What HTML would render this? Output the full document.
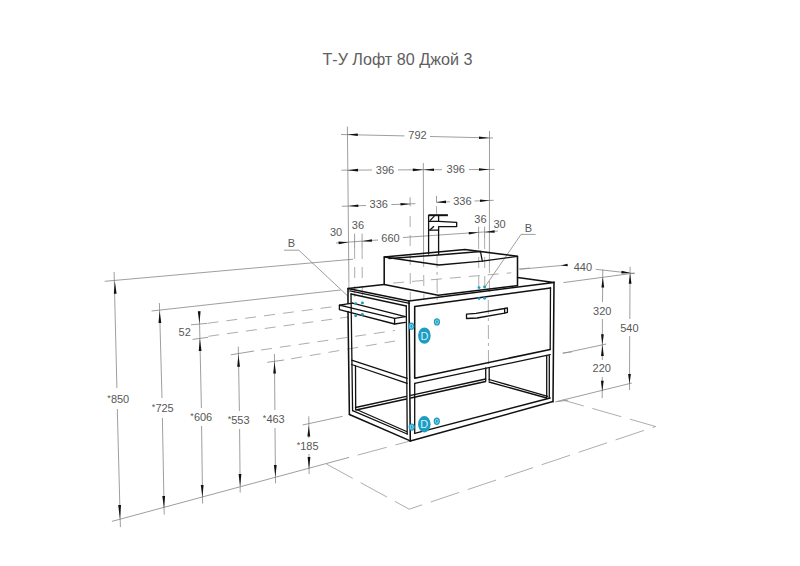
<!DOCTYPE html>
<html><head><meta charset="utf-8"><style>
html,body{margin:0;padding:0;background:#fff;width:800px;height:566px;overflow:hidden}
svg{display:block}
.d{stroke:#747474;stroke-width:0.7;fill:none}
.h{stroke:#8a8a8a;stroke-width:0.7;fill:none;stroke-dasharray:11 8}
.hf{stroke:#8a8a8a;stroke-width:0.7;fill:none;stroke-dasharray:30 9}
.o12{stroke-dashoffset:30}
.o8{stroke-dashoffset:-7}
.hc{stroke:#8a8a8a;stroke-width:0.7;fill:none;stroke-dasharray:14 4 3 4}
.kf{stroke:#111;stroke-width:2.0;fill:none}
.k{stroke:#111;stroke-width:1.55;fill:none;stroke-linejoin:round;stroke-linecap:round}
.k2{stroke:#111;stroke-width:1.3;fill:none;stroke-linejoin:round;stroke-linecap:round}
.ar{fill:#111}
.t{font-family:"Liberation Sans",sans-serif;fill:#575757;text-anchor:middle}
.title{font-family:"Liberation Sans",sans-serif;fill:#606060;font-size:16px}
</style></head><body>
<svg width="800" height="566" viewBox="0 0 800 566">
<text class="title" x="322.4" y="64.8" textLength="150" lengthAdjust="spacingAndGlyphs">Т-У Лофт 80 Джой 3</text>
<line class="d" x1="347.4" y1="126.5" x2="348.9" y2="282"/>
<line class="d" x1="423.3" y1="163" x2="423.6" y2="256"/>
<line class="d" x1="489.5" y1="131" x2="489.4" y2="262"/>
<line class="d" x1="341" y1="134.5" x2="404.5" y2="135.9"/>
<line class="d" x1="430" y1="136.5" x2="493" y2="138"/>
<polygon class="ar" points="347.4,134.6 357.78,136.10 357.82,133.50"/>
<polygon class="ar" points="489.5,137.9 479.02,136.40 478.98,139.00"/>
<line class="d" x1="341.4" y1="170.2" x2="372" y2="170.0"/>
<line class="d" x1="398" y1="169.9" x2="442" y2="169.7"/>
<line class="d" x1="469" y1="169.6" x2="494.5" y2="169.4"/>
<polygon class="ar" points="347.5,170.2 358.01,171.40 357.99,168.80"/>
<polygon class="ar" points="423.3,169.8 412.79,168.60 412.81,171.20"/>
<polygon class="ar" points="423.5,169.8 434.01,171.00 433.99,168.40"/>
<polygon class="ar" points="489.5,169.4 478.99,168.20 479.01,170.80"/>
<line class="d" x1="341.8" y1="206.3" x2="366" y2="205.5"/>
<line class="d" x1="391.3" y1="204.6" x2="415.4" y2="203.7"/>
<line class="d" x1="410.1" y1="197.3" x2="410.1" y2="206.3"/>
<polygon class="ar" points="348.5,206.0 358.34,207.00 358.26,204.40"/>
<polygon class="ar" points="410.1,203.9 400.46,202.90 400.54,205.50"/>
<line class="d" x1="436.5" y1="195.8" x2="436.5" y2="202.5"/>
<line class="d" x1="436.5" y1="202.2" x2="450" y2="201.8"/>
<line class="d" x1="474.5" y1="201.0" x2="493.6" y2="200.3"/>
<polygon class="ar" points="436.5,202.2 446.04,203.20 445.96,200.60"/>
<polygon class="ar" points="489.4,200.5 479.96,199.50 480.04,202.10"/>
<line class="d" x1="336" y1="243.0" x2="378" y2="240.0"/>
<line class="d" x1="403" y1="237.5" x2="498" y2="231.0"/>
<polygon class="ar" points="348.6,242.2 338.51,241.60 338.69,244.20"/>
<polygon class="ar" points="362.1,241.2 371.99,241.80 371.81,239.20"/>
<polygon class="ar" points="478.6,232.6 468.71,232.00 468.89,234.60"/>
<polygon class="ar" points="484.6,232.2 494.69,232.80 494.51,230.20"/>
<line class="d" x1="478.6" y1="226.6" x2="478.6" y2="238"/>
<line class="d" x1="484.6" y1="226.6" x2="484.6" y2="238"/>
<line class="d" x1="354.6" y1="233.7" x2="354.6" y2="248"/>
<line class="d" x1="362.1" y1="233.7" x2="362.1" y2="248"/>
<line class="h" x1="348.9" y1="282" x2="349" y2="300"/>
<line class="h" x1="354.6" y1="248" x2="354.8" y2="302"/>
<line class="h" x1="362.1" y1="248" x2="362.3" y2="302"/>
<line class="h" x1="410.1" y1="216" x2="410.3" y2="300"/>
<line class="h" x1="423.6" y1="256" x2="423.9" y2="300"/>
<line class="h" x1="436.5" y1="206" x2="436.6" y2="214"/>
<line class="hc" x1="437" y1="254" x2="437.2" y2="300"/>
<line class="h" x1="478.6" y1="238" x2="478.8" y2="290"/>
<line class="h" x1="484.6" y1="238" x2="484.8" y2="290"/>
<line class="h" x1="489.4" y1="262" x2="489.5" y2="300"/>
<line class="hc" x1="488.3" y1="300" x2="488.5" y2="368"/>
<line class="d" x1="284" y1="250.2" x2="298.8" y2="250.2"/>
<line class="d" x1="298.8" y1="250.2" x2="348.6" y2="296.8"/>
<line class="d" x1="521" y1="234.4" x2="535.6" y2="234.4"/>
<line class="d" x1="521" y1="234.4" x2="484.4" y2="287.7"/>
<line class="d" x1="104.7" y1="281.3" x2="353.1" y2="259.2"/>
<line class="d" x1="151.6" y1="311.0" x2="340.5" y2="290.0"/>
<line class="d" x1="191" y1="324.8" x2="207" y2="323.4"/>
<line class="d" x1="192.5" y1="339.4" x2="208" y2="337.3"/>
<line class="d" x1="230.8" y1="354.8" x2="254.1" y2="351.0"/>
<line class="d" x1="267.3" y1="362.3" x2="284.1" y2="360.0"/>
<line class="d" x1="302.5" y1="425.0" x2="342.7" y2="416.3"/>
<line class="d" x1="111.9" y1="521.4" x2="349" y2="457.4"/>
<line class="hf o12" x1="349" y1="457.4" x2="410.5" y2="440.9"/>
<line class="d" x1="114.1" y1="271.9" x2="116.9" y2="388"/>
<line class="d" x1="117.3" y1="409" x2="120.4" y2="527"/>
<line class="d" x1="159.4" y1="303" x2="162.0" y2="398"/>
<line class="d" x1="162.4" y1="418" x2="164.2" y2="514.5"/>
<line class="d" x1="199.3" y1="311.3" x2="201.4" y2="408"/>
<line class="d" x1="201.6" y1="426" x2="202.6" y2="503.6"/>
<line class="d" x1="238.3" y1="346.6" x2="239.4" y2="411"/>
<line class="d" x1="239.6" y1="429" x2="240.2" y2="492.6"/>
<line class="d" x1="274.4" y1="354" x2="274.9" y2="410"/>
<line class="d" x1="275.0" y1="428" x2="275.5" y2="483.3"/>
<line class="d" x1="308.8" y1="416.3" x2="308.9" y2="438"/>
<line class="d" x1="309.0" y1="454" x2="309.1" y2="474"/>
<polygon class="ar" points="114.9,281.3 113.80,293.83 116.60,293.77"/>
<polygon class="ar" points="120.0,519.2 121.00,504.96 118.20,505.04"/>
<polygon class="ar" points="159.6,311 158.50,323.03 161.30,322.97"/>
<polygon class="ar" points="164.0,508.3 165.10,495.97 162.30,496.03"/>
<polygon class="ar" points="199.4,323.5 200.60,311.28 197.80,311.32"/>
<polygon class="ar" points="199.9,338.8 198.70,351.02 201.50,350.98"/>
<polygon class="ar" points="202.4,497.3 203.60,484.98 200.80,485.02"/>
<polygon class="ar" points="238.4,354.8 237.20,366.82 240.00,366.78"/>
<polygon class="ar" points="240.1,486.4 241.40,473.99 238.60,474.01"/>
<polygon class="ar" points="274.5,361.6 273.20,373.61 276.00,373.59"/>
<polygon class="ar" points="275.4,477 276.70,464.99 273.90,465.01"/>
<polygon class="ar" points="308.8,425.4 307.40,436.40 310.20,436.40"/>
<polygon class="ar" points="309.0,469.2 310.40,457.00 307.60,457.00"/>
<line class="d" x1="519.6" y1="269.3" x2="567.8" y2="264.9"/>
<line class="d" x1="595.8" y1="269.3" x2="634.3" y2="273.6"/>
<polygon class="ar" points="561,265.5 567.69,266.20 567.51,263.80"/>
<polygon class="ar" points="630.8,273.1 621.65,270.71 621.35,273.49"/>
<line class="d" x1="563.4" y1="282.6" x2="634.9" y2="273.0"/>
<line class="d" x1="562.8" y1="353.3" x2="606.3" y2="344.0"/>
<line class="d" x1="555.3" y1="401.9" x2="631.9" y2="383.0"/>
<line class="d" x1="602.8" y1="269.6" x2="602.5" y2="302"/>
<line class="d" x1="602.4" y1="319" x2="602.3" y2="360"/>
<line class="d" x1="602.3" y1="377" x2="602.2" y2="398.1"/>
<line class="d" x1="630.1" y1="266.8" x2="629.8" y2="319"/>
<line class="d" x1="629.7" y1="336" x2="629.5" y2="390"/>
<polygon class="ar" points="602.8,277.3 601.40,287.50 604.20,287.50"/>
<polygon class="ar" points="602.4,344.8 603.80,334.30 601.00,334.30"/>
<polygon class="ar" points="602.4,344.8 601.00,356.00 603.80,356.00"/>
<polygon class="ar" points="602.3,391.3 603.70,380.80 600.90,380.80"/>
<polygon class="ar" points="630.1,273.6 628.70,283.80 631.50,283.80"/>
<polygon class="ar" points="629.5,383.8 630.90,374.00 628.10,374.00"/>
<polyline class="hf" points="326.4,464 409.2,509.2 655.6,426.5 562.8,400"/>
<line class="h" x1="207.5" y1="323.3" x2="346" y2="305"/>
<line class="h" x1="208.3" y1="336.3" x2="348" y2="317"/>
<line class="h o8" x1="254.1" y1="351" x2="395" y2="330.5"/>
<line class="h o8" x1="284.1" y1="360" x2="395" y2="341"/>
<line class="h" x1="393.1" y1="283.1" x2="511.3" y2="272.8"/>
<line class="h" x1="518.8" y1="269" x2="530" y2="268"/>
<line class="h" x1="562.6" y1="353" x2="572" y2="352"/>
<line class="h" x1="557.3" y1="401.6" x2="572" y2="399.8"/>
<polyline class="k" points="384.2,284.5 384.2,257 465,249.5 517.5,256.3 517.5,285.7"/>
<polyline class="k2" points="384.2,257 439,265 482.3,261.1 517.5,256.3"/>
<polyline class="k2" points="389,258.5 438,255 480.5,251.5 482.3,261.1"/>
<polyline class="k" points="384.2,284.5 438.2,295.2 516.6,285.7"/>
<line class="kf" x1="428.6" y1="215.2" x2="447.9" y2="215.2"/>
<polyline class="k2" points="428.6,254 428.6,215.5"/>
<polyline class="k2" points="438.6,216 438.6,221.3 428.6,221.3"/>
<polyline class="k2" points="438.6,221.4 456.7,222.4 456.7,226.6 438.6,226.6 438.6,230.1 428.6,230.1"/>
<line class="k2" x1="438.6" y1="230.1" x2="438.6" y2="254"/>
<line class="k2" x1="430.2" y1="220.4" x2="434.1" y2="216.4"/>
<line class="k2" x1="430.2" y1="229.7" x2="433.7" y2="226.6"/>
<polyline class="k" points="348,303.5 348,288.5 384.2,284.5"/>
<polyline class="k" points="348,288.5 409,301 554,282.4 517.6,277.4"/>
<line class="k2" x1="350" y1="290.8" x2="409.5" y2="303.4"/>
<line class="k" x1="554" y1="282" x2="553" y2="401.6"/>
<line class="k2" x1="550.5" y1="287.7" x2="550.2" y2="349.4"/>
<line class="k" x1="409" y1="301" x2="410.3" y2="440.9"/>
<line class="k2" x1="406.3" y1="306" x2="407.2" y2="434"/>
<line class="k" x1="348" y1="311.5" x2="349.4" y2="414.5"/>
<line class="k2" x1="351" y1="294" x2="352.6" y2="410.7"/>
<line class="k2" x1="351" y1="294" x2="406.3" y2="306"/>
<line class="k2" x1="351.6" y1="360.1" x2="407.2" y2="378.3"/>
<line class="k2" x1="351.6" y1="364.5" x2="407.2" y2="383.3"/>
<line class="k2" x1="355.5" y1="366" x2="355.7" y2="409.5"/>
<line class="k" x1="349.4" y1="414.5" x2="410.3" y2="440.9"/>
<line class="k2" x1="352.6" y1="410.7" x2="407.2" y2="434"/>
<line class="k2" x1="357.7" y1="410" x2="406.5" y2="431.5"/>
<polyline class="k" points="550.5,288 414.7,306.4 414.7,378.3 550.2,349.4"/>
<line class="k2" x1="414.7" y1="383.3" x2="550.2" y2="354.7"/>
<line class="k2" x1="414.7" y1="383.3" x2="414.7" y2="433.3"/>
<line class="k2" x1="546.7" y1="355.6" x2="546.7" y2="398"/>
<line class="k2" x1="549.3" y1="355.6" x2="549.3" y2="398"/>
<line class="k2" x1="414.7" y1="433.3" x2="550.2" y2="398"/>
<line class="k" x1="410.3" y1="440.9" x2="553" y2="401.6"/>
<line class="k2" x1="355.5" y1="407.5" x2="406.4" y2="396.4"/>
<line class="k2" x1="356" y1="410" x2="406.4" y2="399.0"/>
<line class="k2" x1="410.8" y1="395.4" x2="485.7" y2="379"/>
<line class="k2" x1="410.8" y1="398.0" x2="485.7" y2="381.5"/>
<line class="k2" x1="485.7" y1="368" x2="485.7" y2="380.4"/>
<line class="k2" x1="489.2" y1="368" x2="489.2" y2="380.4"/>
<line class="k2" x1="489.2" y1="379.5" x2="547.6" y2="396.3"/>
<line class="k2" x1="489" y1="382" x2="546.7" y2="398"/>
<polyline class="k2" points="466.5,314.1 476,313.4 504.5,308.5 507.4,307.8 507.4,312.4 504.7,313.1 477,318 466.5,318.5 466.5,314.1"/>
<line class="k2" x1="504.6" y1="308.5" x2="504.7" y2="313.1"/>
<polyline class="k2" points="352.5,303.1 339.4,305.1 339.4,309.6 394.6,324 405.3,322.4"/>
<polyline class="k2" points="339.4,305.1 394.6,318.3 405.3,316.7"/>
<line class="k2" x1="394.6" y1="318.3" x2="394.6" y2="324"/>
<line class="k2" x1="352.5" y1="303.1" x2="405.3" y2="316.7"/>
<text class="t" x="417.5" y="139.3" font-size="11">792</text>
<text class="t" x="385" y="173.8" font-size="11">396</text>
<text class="t" x="455.8" y="172.8" font-size="11">396</text>
<text class="t" x="378.8" y="208.2" font-size="11">336</text>
<text class="t" x="462.4" y="204.8" font-size="11">336</text>
<text class="t" x="336" y="235.8" font-size="11">30</text>
<text class="t" x="357.9" y="228.8" font-size="11">36</text>
<text class="t" x="390.5" y="241.7" font-size="11">660</text>
<text class="t" x="480.4" y="223.2" font-size="11">36</text>
<text class="t" x="499.5" y="228.2" font-size="11">30</text>
<text class="t" x="291.4" y="247.2" font-size="11">B</text>
<text class="t" x="528.5" y="231.8" font-size="11">B</text>
<text class="t" x="582.9" y="271.1" font-size="11">440</text>
<text class="t" x="602.3" y="314.7" font-size="11">320</text>
<text class="t" x="629.4" y="331.7" font-size="11">540</text>
<text class="t" x="601.8" y="371.9" font-size="11">220</text>
<text class="t" x="184.7" y="336.2" font-size="11">52</text>
<text class="t" x="118.3" y="402.8" font-size="11"><tspan font-size="9" dy="-2">*</tspan><tspan dy="2">850</tspan></text>
<text class="t" x="162.8" y="412.2" font-size="11"><tspan font-size="9" dy="-2">*</tspan><tspan dy="2">725</tspan></text>
<text class="t" x="201.3" y="421.0" font-size="11"><tspan font-size="9" dy="-2">*</tspan><tspan dy="2">606</tspan></text>
<text class="t" x="238.6" y="424.0" font-size="11"><tspan font-size="9" dy="-2">*</tspan><tspan dy="2">553</tspan></text>
<text class="t" x="273.8" y="423.1" font-size="11"><tspan font-size="9" dy="-2">*</tspan><tspan dy="2">463</tspan></text>
<text class="t" x="307.6" y="450.0" font-size="11"><tspan font-size="9" dy="-2">*</tspan><tspan dy="2">185</tspan></text>
<circle cx="355.7" cy="303.6" r="1.45" fill="#1f9cc2"/>
<circle cx="362.4" cy="302.9" r="1.45" fill="#1f9cc2"/>
<circle cx="355.7" cy="315.8" r="1.45" fill="#1f9cc2"/>
<circle cx="362.4" cy="314.5" r="1.45" fill="#1f9cc2"/>
<circle cx="479" cy="287.6" r="1.45" fill="#1f9cc2"/>
<circle cx="484.6" cy="287" r="1.45" fill="#1f9cc2"/>
<circle cx="479" cy="298.6" r="1.45" fill="#1f9cc2"/>
<circle cx="484.6" cy="298.2" r="1.45" fill="#1f9cc2"/>
<ellipse cx="411.3" cy="326.3" rx="3.1" ry="3.7" fill="#1f9cc2"/><ellipse cx="411.3" cy="326.3" rx="1.4" ry="2" fill="none" stroke="#bfeefa" stroke-width="0.7"/>
<ellipse cx="436.9" cy="321.9" rx="3.1" ry="3.7" fill="#1f9cc2"/><ellipse cx="436.9" cy="321.9" rx="1.4" ry="2" fill="none" stroke="#bfeefa" stroke-width="0.7"/>
<ellipse cx="411.7" cy="427.1" rx="3.1" ry="3.7" fill="#1f9cc2"/><ellipse cx="411.7" cy="427.1" rx="1.4" ry="2" fill="none" stroke="#bfeefa" stroke-width="0.7"/>
<ellipse cx="436.8" cy="421.3" rx="3.1" ry="3.7" fill="#1f9cc2"/><ellipse cx="436.8" cy="421.3" rx="1.4" ry="2" fill="none" stroke="#bfeefa" stroke-width="0.7"/>
<ellipse cx="424.4" cy="335.6" rx="6.3" ry="8.2" fill="#1f9cc2"/><text x="424.4" y="339.6" font-size="11" fill="#c8f4ff" text-anchor="middle" font-family="Liberation Sans">D</text>
<ellipse cx="424.3" cy="424.3" rx="6.3" ry="8.2" fill="#1f9cc2"/><text x="424.3" y="428.3" font-size="11" fill="#c8f4ff" text-anchor="middle" font-family="Liberation Sans">D</text>
</svg></body></html>
